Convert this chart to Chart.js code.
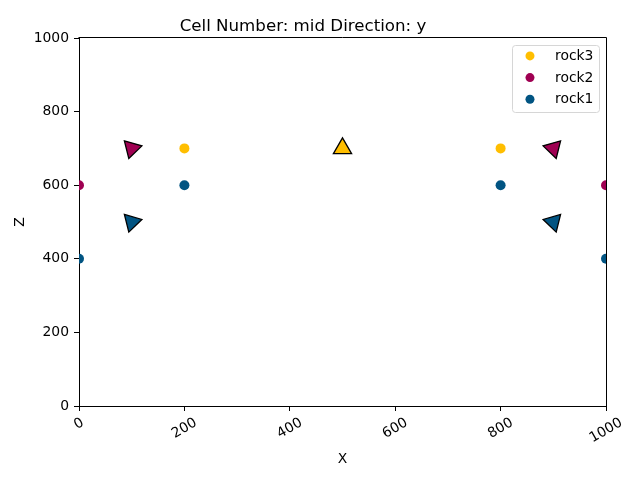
<!DOCTYPE html>
<html>
<head>
<meta charset="utf-8">
<script src="https://cdn.jsdelivr.net/npm/chart.js@4/dist/chart.umd.min.js"></script>
<style>
  html, body { margin: 0; padding: 0; background: #fff; }
</style>
</head>
<body>
<canvas id="c" width="640" height="480"></canvas>
<script>
const xTicks = [0, 200, 400, 600, 800, 1000];
const yTicks = [0, 200, 400, 600, 800, 1000];

const rock3X = [200, 500, 800];
const rock3Z = [700, 700, 700];
const rock2X = [0, 100, 900, 1000];
const rock2Z = [600, 700, 700, 600];
const rock1X = [0, 100, 200, 800, 900, 1000];
const rock1Z = [400, 500, 600, 600, 500, 400];

// orientation markers (drawn as triangles on top of the points)
const oriX = [100, 100, 500, 900, 900];
const oriZ = [700, 500, 700, 700, 500];
const oriRock = ['rock2', 'rock1', 'rock3', 'rock2', 'rock1'];
const oriAngle = [-44, -44, 0, 44, 44];

const colors = { rock3: '#ffbe00', rock2: '#9f0052', rock1: '#015482' };

const FONT = 'DejaVu Sans';
const TICK_PX = 13.9;

Chart.defaults.font.family = FONT;
Chart.defaults.color = '#000';

const toPoints = (xs, zs) => xs.map((x, i) => ({ x: x, y: zs[i] }));

function rockSet(name, xs, zs) {
    return {
        label: name,
        data: toPoints(xs, zs),
        backgroundColor: colors[name],
        borderColor: colors[name],
        pointRadius: 5,
        pointBorderWidth: 0,
        order: 1,
        inLegend: true
    };
}

const extras = {
    id: 'extras',
    afterDraw(chart) {
        const { ctx, chartArea: a, scales: { x } } = chart;
        ctx.save();

        // top and right spines (left/bottom come from the axes)
        ctx.strokeStyle = '#000';
        ctx.lineWidth = 1;
        ctx.beginPath();
        ctx.moveTo(Math.round(a.left) - 0.5, Math.round(a.top) - 0.5);
        ctx.lineTo(Math.round(a.right) + 0.5, Math.round(a.top) - 0.5);
        ctx.lineTo(Math.round(a.right) + 0.5, Math.round(a.bottom) + 1);
        ctx.stroke();

        // x tick labels: rotated 30deg, centred under the tick
        ctx.font = TICK_PX + 'px "' + FONT + '"';
        ctx.fillStyle = '#000';
        ctx.textAlign = 'center';
        ctx.textBaseline = 'middle';
        const rot = 30 * Math.PI / 180;
        x.ticks.forEach((t, i) => {
            const px = x.getPixelForTick(i);
            const label = String(t.value);
            const w = ctx.measureText(label).width;
            const bh = w * Math.sin(rot) + 14 * Math.cos(rot);
            ctx.save();
            ctx.translate(px, a.bottom + 9.7 + bh / 2);
            ctx.rotate(-rot);
            ctx.fillText(label, 0, 0);
            ctx.restore();
        });

        // legend box, top right inside the axes
        const items = chart.data.datasets.filter(d => d.inLegend);
        const textW = Math.max(...items.map(d => ctx.measureText(d.label).width));
        const boxW = 43.3 + textW + 5.6;
        const boxH = 11.4 + 21.7 * (items.length - 1) + 12;
        const bx = a.right - 7 - boxW;
        const by = a.top + 6.5;
        ctx.beginPath();
        ctx.roundRect(Math.round(bx) + 0.5, Math.round(by) + 0.5, Math.round(boxW), Math.round(boxH), 3);
        ctx.fillStyle = 'rgba(255,255,255,0.8)';
        ctx.fill();
        ctx.strokeStyle = '#d6d6d6';
        ctx.stroke();
        ctx.textAlign = 'left';
        items.forEach((d, i) => {
            const cy = by + 11.4 + 21.7 * i;
            ctx.beginPath();
            ctx.arc(bx + 18.3, cy, 4.5, 0, Math.PI * 2);
            ctx.fillStyle = d.backgroundColor;
            ctx.fill();
            ctx.fillStyle = '#000';
            ctx.fillText(d.label, bx + 43.3, cy + 0.5);
        });

        ctx.restore();
    }
};

new Chart(document.getElementById('c'), {
    type: 'scatter',
    data: {
        datasets: [
            {
                label: 'orientations',
                data: toPoints(oriX, oriZ),
                pointStyle: 'triangle',
                pointRotation: oriAngle,
                pointRadius: 10.5,
                backgroundColor: oriRock.map(r => colors[r]),
                borderColor: '#000',
                pointBorderWidth: 1.3,
                order: 0
            },
            rockSet('rock3', rock3X, rock3Z),
            rockSet('rock2', rock2X, rock2Z),
            rockSet('rock1', rock1X, rock1Z)
        ]
    },
    options: {
        responsive: false,
        animation: false,
        events: [],
        layout: { padding: { left: 0, right: 34, top: 0, bottom: 0 } },
        plugins: {
            legend: { display: false },
            tooltip: { enabled: false },
            title: {
                display: true,
                text: 'Cell Number: mid Direction: y',
                color: '#000',
                font: { size: 16.67, weight: 'normal' },
                padding: { top: 17, bottom: 1 }
            }
        },
        scales: {
            x: {
                type: 'linear',
                min: 0,
                max: 1000,
                afterBuildTicks: s => { s.ticks = xTicks.map(v => ({ value: v })); },
                afterFit: s => { s.height = 74; },
                ticks: { display: false },
                grid: { drawOnChartArea: false, drawTicks: true, tickLength: 5, color: '#000' },
                border: { display: true, color: '#000', width: 1 },
                title: {
                    display: true, text: 'X', color: '#000',
                    font: { size: TICK_PX }, padding: { top: 0, bottom: 12 }
                }
            },
            y: {
                type: 'linear',
                min: 0,
                max: 1000,
                afterBuildTicks: s => { s.ticks = yTicks.map(v => ({ value: v })); },
                afterFit: s => { s.width = 79; },
                ticks: {
                    color: '#000', padding: 5,
                    font: { size: TICK_PX },
                    callback: v => String(v)
                },
                grid: { drawOnChartArea: false, drawTicks: true, tickLength: 5, color: '#000' },
                border: { display: true, color: '#000', width: 1 },
                title: {
                    display: true, text: 'Z', color: '#000',
                    font: { size: TICK_PX }, padding: { top: 12, bottom: 0 }
                }
            }
        }
    },
    plugins: [extras]
});
</script>
</body>
</html>
